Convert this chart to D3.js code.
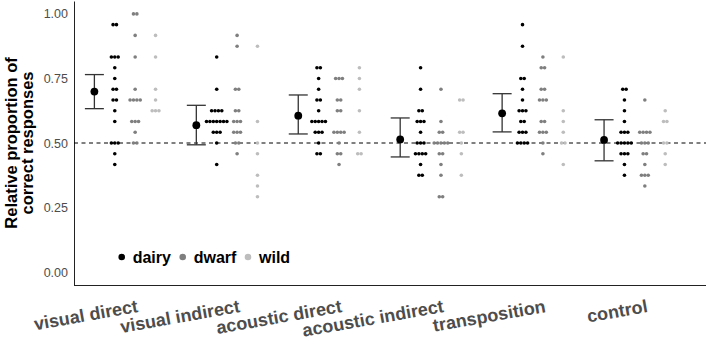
<!DOCTYPE html>
<html>
<head>
<meta charset="utf-8">
<script src="https://cdn.jsdelivr.net/npm/d3@7"></script>
<style>
  body { margin: 0; background: #fff; }
  svg { display: block; font-family: "Liberation Sans", Arial, sans-serif; }
</style>
</head>
<body>
<svg id="chart"></svg>
<script>
// conditions on the x axis
var conditions = ["visual direct", "visual indirect", "acoustic direct", "acoustic indirect", "transposition", "control"];
var breeds = ["dairy", "dwarf", "wild"];
var trials = 24;

// correct answers out of 24 trials, one entry per animal
var dairyScores = [
  [23, 23, 20, 20, 20, 19, 18, 17, 17, 16, 16, 15, 14, 12, 12, 12, 11, 10],
  [20, 17, 15, 15, 15, 15, 14, 14, 14, 14, 14, 14, 14, 13, 13, 13, 12, 10],
  [19, 19, 18, 17, 16, 16, 15, 14, 14, 14, 14, 14, 13, 13, 13, 12, 11, 11],
  [19, 17, 15, 15, 14, 14, 14, 13, 12, 12, 12, 11, 11, 11, 11, 10, 9, 9],
  [23, 21, 18, 18, 17, 16, 15, 15, 15, 14, 14, 13, 13, 13, 12, 12, 12, 12],
  [17, 17, 16, 15, 14, 13, 13, 13, 12, 12, 12, 12, 12, 11, 11, 11, 10, 9]
];
var dwarfScores = [
  [24, 24, 22, 20, 17, 16, 16, 16, 16, 14, 14, 14, 13, 12, 12],
  [22, 21, 17, 17, 15, 15, 14, 14, 14, 13, 13, 13, 12, 12, 11],
  [18, 18, 18, 16, 16, 15, 15, 13, 13, 13, 13, 12, 11, 11, 10],
  [17, 14, 13, 13, 12, 12, 12, 12, 12, 11, 11, 10, 9, 7, 7],
  [20, 19, 19, 17, 17, 16, 16, 16, 14, 14, 13, 13, 13, 12, 11],
  [16, 13, 13, 13, 13, 12, 12, 12, 11, 11, 10, 9, 9, 9, 8]
];
var wildScores = [
  [22, 20, 17, 16, 15, 15, 15],
  [21, 14, 12, 11, 9, 8, 7],
  [19, 18, 17, 15, 13, 11, 11],
  [16, 16, 13, 13, 12, 11, 9],
  [20, 15, 14, 13, 12, 12, 10],
  [15, 14, 14, 12, 12, 11, 10]
];

// estimated mean and interval per condition
var means = [0.699, 0.569, 0.606, 0.514, 0.615, 0.512];
var lower = [0.633, 0.493, 0.535, 0.446, 0.543, 0.431];
var upper = [0.765, 0.646, 0.686, 0.597, 0.691, 0.590];

var yTicks = [0, 0.25, 0.5, 0.75, 1];
var breedColors = ["#000000", "#7f7f7f", "#bdbdbd"];

(function () {
  var margin = {
      top: 1,
      right: 2,
      bottom: 52,
      left: 74
    },
    width = 708 - margin.left - margin.right,
    height = 337 - margin.top - margin.bottom;

  var svg = d3.select("#chart")
    .attr("width", 708)
    .attr("height", 337)
    .append("g")
    .attr("transform", "translate(" + margin.left + "," + margin.top + ")");

  var x = d3.scalePoint()
    .domain(conditions)
    .range([0, width])
    .padding(0.6);

  var step = x.step();

  var dodge = d3.scalePoint()
    .domain(["mean", "dairy", "dwarf", "wild"])
    .range([-0.4 * step, 0.2 * step]);

  var y = d3.scaleLinear()
    .domain([-0.05, 1.05])
    .range([height, 0]);

  var color = d3.scaleOrdinal()
    .domain(breeds)
    .range(breedColors);

  // y axis
  var yAxis = svg.append("g")
    .call(d3.axisLeft(y).tickValues(yTicks).tickFormat(d3.format(".2f")).tickSize(0).tickSizeOuter(0).tickPadding(6));
  yAxis.select(".domain").attr("stroke", "#222");
  yAxis.selectAll("text")
    .attr("fill", "#4d4d4d")
    .style("font-size", "12.5px");

  // x axis
  var xAxis = svg.append("g")
    .attr("transform", "translate(0," + height + ")")
    .call(d3.axisBottom(x).tickSize(0).tickSizeOuter(0));
  xAxis.select(".domain")
    .attr("stroke", "#222")
    .attr("d", "M0,0.5H" + width);
  xAxis.selectAll("text")
    .attr("fill", "#4d4d4d")
    .attr("text-anchor", "end")
    .style("font-size", "18px")
    .style("font-weight", "bold")
    .attr("y", 0)
    .attr("dy", 0)
    .attr("transform", "translate(3,27) rotate(-10)");

  // y title
  var title = svg.append("text")
    .attr("transform", "translate(" + (-57) + "," + y(0.5) + ") rotate(-90)")
    .attr("text-anchor", "middle")
    .style("font-size", "16.5px")
    .style("font-weight", "bold")
    .attr("fill", "#000");
  title.append("tspan").attr("x", 0).attr("dy", 0).text("Relative proportion of");
  title.append("tspan").attr("x", 0).attr("dy", "0.95em").text("correct responses");

  // reference line at chance
  svg.append("line")
    .attr("x1", 0)
    .attr("x2", width)
    .attr("y1", y(0.5))
    .attr("y2", y(0.5))
    .attr("stroke", "#000")
    .attr("stroke-width", 1)
    .attr("stroke-dasharray", "4,3.5");

  // stacked dots, centered on each column
  var allScores = [dairyScores, dwarfScores, wildScores];
  var dots = [];
  breeds.forEach(function (b, bi) {
    conditions.forEach(function (c, ci) {
      var counts = d3.rollup(allScores[bi][ci], function (v) { return v.length; }, function (d) { return d; });
      counts.forEach(function (n, k) {
        for (var i = 0; i < n; i++) {
          dots.push({
            condition: c,
            breed: b,
            value: k / trials,
            offset: i - (n - 1) / 2
          });
        }
      });
    });
  });

  var pitch = 3.4;
  svg.selectAll(".dot")
    .data(dots)
    .enter().append("circle")
    .attr("class", "dot")
    .attr("cx", function (d) {
      return x(d.condition) + dodge(d.breed) + d.offset * pitch;
    })
    .attr("cy", function (d) {
      return y(d.value);
    })
    .attr("r", 1.8)
    .attr("fill", function (d) {
      return color(d.breed);
    });

  // mean and interval
  var summary = conditions.map(function (c, i) {
    return { condition: c, mean: means[i], lo: lower[i], hi: upper[i] };
  });

  var bars = svg.selectAll(".err")
    .data(summary)
    .enter().append("g")
    .attr("class", "err")
    .attr("transform", function (d) {
      return "translate(" + (x(d.condition) + dodge("mean")) + ",0)";
    });

  bars.append("line")
    .attr("y1", function (d) { return y(d.lo); })
    .attr("y2", function (d) { return y(d.hi); })
    .attr("stroke", "#333")
    .attr("stroke-width", 1.3);
  bars.append("line")
    .attr("x1", -9.5).attr("x2", 9.5)
    .attr("y1", function (d) { return y(d.hi); })
    .attr("y2", function (d) { return y(d.hi); })
    .attr("stroke", "#333")
    .attr("stroke-width", 1.3);
  bars.append("line")
    .attr("x1", -9.5).attr("x2", 9.5)
    .attr("y1", function (d) { return y(d.lo); })
    .attr("y2", function (d) { return y(d.lo); })
    .attr("stroke", "#333")
    .attr("stroke-width", 1.3);
  bars.append("circle")
    .attr("cy", function (d) { return y(d.mean); })
    .attr("r", 3.9)
    .attr("fill", "#000");

  // legend inside the panel
  var legendX = [47.7, 108.7, 174];
  var legend = svg.selectAll(".legend")
    .data(breeds)
    .enter().append("g")
    .attr("class", "legend")
    .attr("transform", function (d, i) {
      return "translate(" + legendX[i] + "," + 256 + ")";
    });
  legend.append("circle")
    .attr("r", 3.3)
    .attr("fill", function (d) { return color(d); });
  legend.append("text")
    .attr("x", 11)
    .attr("dy", "0.36em")
    .style("font-size", "16px")
    .style("font-weight", "bold")
    .attr("fill", "#000")
    .text(function (d) { return d; });
})();
</script>
</body>
</html>
